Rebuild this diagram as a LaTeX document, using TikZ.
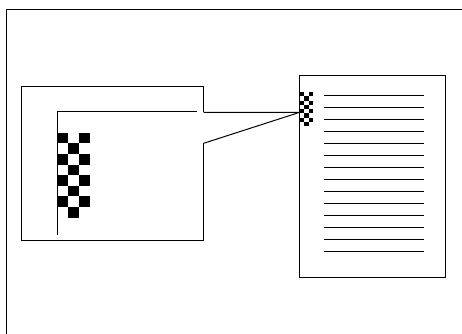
\documentclass[tikz,border=0pt]{standalone}
\usetikzlibrary{calc}
\definecolor{inkBlack}{HTML}{000000}
\tikzset{
  outline/.style={draw=inkBlack, line width=1pt},
  cell/.style={fill=inkBlack, draw=none},
}
% one black/white column block, 3 wide and 8 high, in unit cells
\newcommand{\checkcol}{%
  \foreach \r in {0,2,4,6} {
    \fill[cell] (0,\r) rectangle ++(1,1);
    \fill[cell] (2,\r) rectangle ++(1,1);
    \fill[cell] (1,\r+1) rectangle ++(1,1);
  }}

\begin{document}
\begin{tikzpicture}[x=1pt, y=-1pt]
        \useasboundingbox (0,0) rectangle (462,333);
        % outer frame (runs off the page)
        \draw[outline] (6.5,340) -- (6.5,9.5) -- (470,9.5);
        % page on the right
        \draw[outline] (299.7,75.7) rectangle (445.3,277.3);
        \coordinate (tip) at (299.7,112.3);
        \foreach \i in {0,...,13} {
          \draw[outline] (324.3,95.7+12*\i) -- (424.3,95.7+12*\i);
        }
        \begin{scope}[shift={(300,92)}, x=4.45pt, y=-4.25pt]
          \checkcol
        \end{scope}
        % magnified callout
        \draw[outline] (203.6,112.3) -- (203.6,86.5) -- (21.5,86.5) -- (21.5,240) -- (203.6,240) -- (203.6,143.3);
        \draw[outline] (203.6,112.3) -- (tip) -- (203.6,143.3);
        \draw[outline] (197,111.5) -- (57.5,111.5) -- (57.5,235);
        \begin{scope}[shift={(57.5,132.7)}, x=10.75pt, y=-10.6pt]
          \checkcol
        \end{scope}
      \end{tikzpicture}
\end{document}
